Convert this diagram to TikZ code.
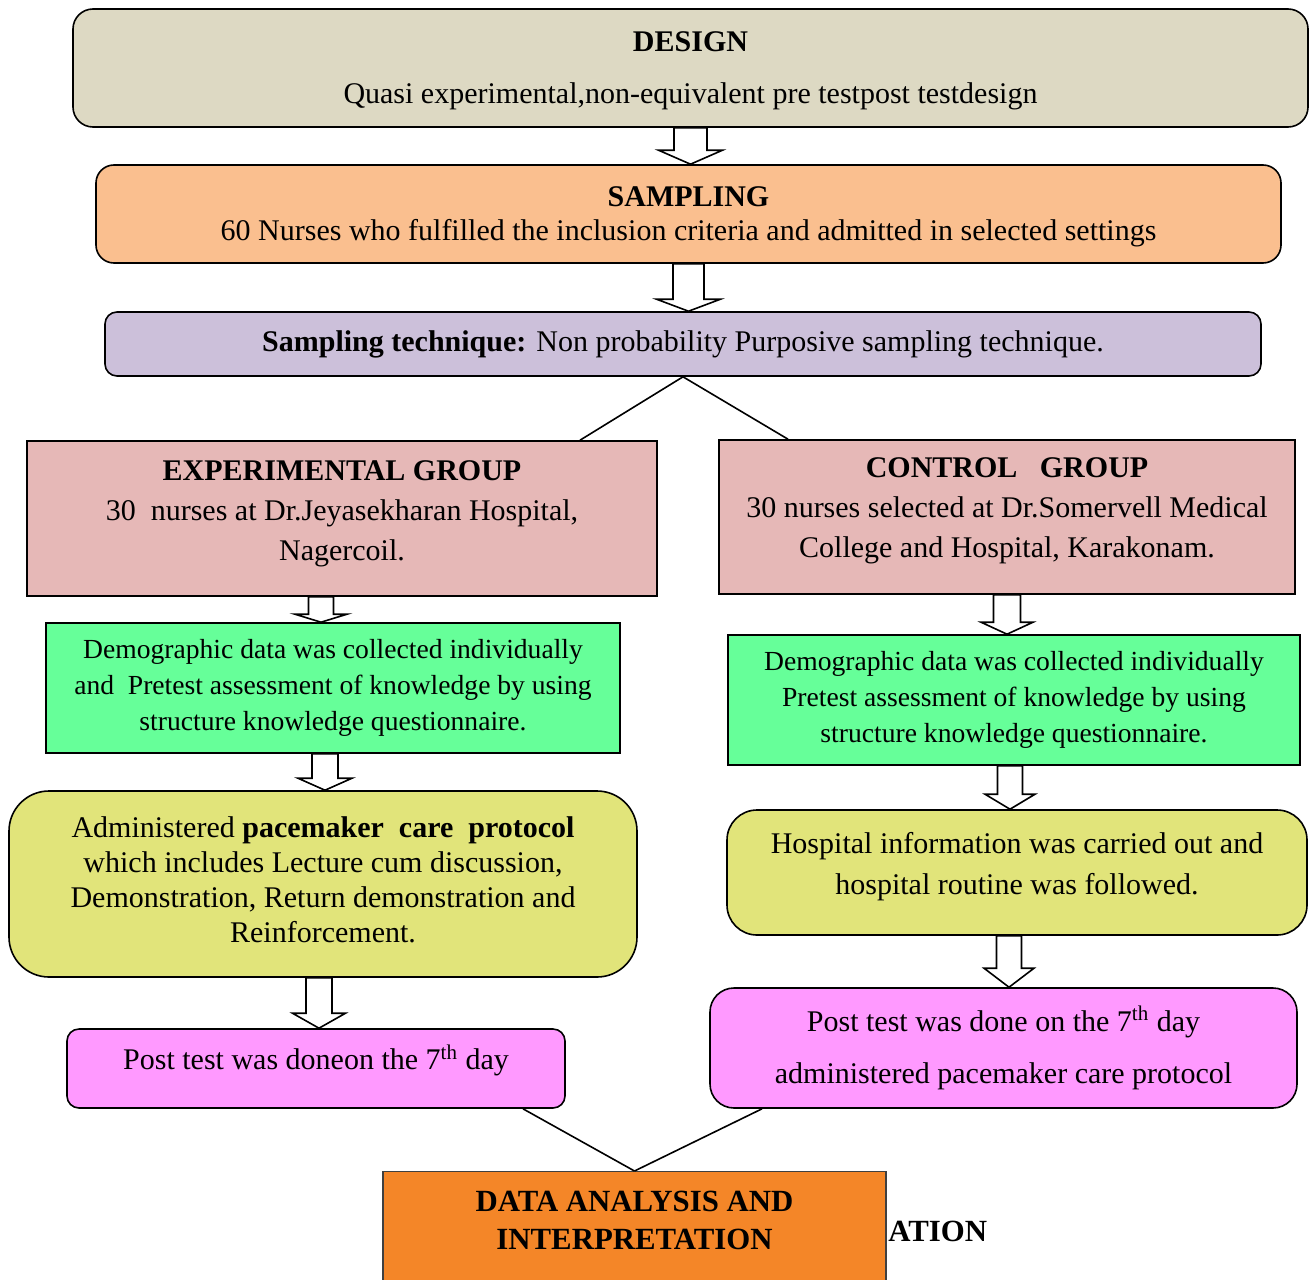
\documentclass[tikz,border=0pt]{standalone}
\usepackage{fontspec}
\setmainfont{Liberation Serif}
\usetikzlibrary{calc}
\definecolor{designcol}{RGB}{221,217,195}
\definecolor{samplecol}{RGB}{250,191,143}
\definecolor{techcol}{RGB}{204,192,218}
\definecolor{groupcol}{RGB}{230,184,183}
\definecolor{demogcol}{RGB}{102,255,153}
\definecolor{treatcol}{RGB}{225,228,122}
\definecolor{postcol}{RGB}{255,153,255}
\definecolor{resultcol}{RGB}{244,134,40}
\tikzset{
    box/.style={draw, line width=0.8pt, align=center, inner sep=0pt},
    hollow/.style={draw, line width=0.8pt, fill=white, line join=miter},
    link/.style={line width=0.8pt}
}
% vertical hollow block arrow: from, to, shaft half width, head half width, head length
\newcommand{\blockarrow}[5]{%
    \draw[hollow] let \p1=#1, \p2=#2 in
    (\x1-#3,\y1) -- (\x1+#3,\y1) -- (\x1+#3,\y2+#5) -- (\x1+#4,\y2+#5)
    -- (\x1,\y2) -- (\x1-#4,\y2+#5) -- (\x1-#3,\y2+#5) -- cycle;}
\begin{document}
\begin{tikzpicture}[x=0.5pt, y=-0.5pt]
    \path[use as bounding box] (0,0) rectangle (1310,1279);
    \clip (0,0) rectangle (1310,1279);
    \node[box, fill=designcol, rounded corners=10pt, minimum width=617.5pt, minimum height=59pt, text depth=0pt,
        font=\fontsize{15}{26}\selectfont] at (690.5,68) (design)
        {\textbf{DESIGN}\\Quasi experimental,non-equivalent pre testpost testdesign};
    \node[box, fill=samplecol, rounded corners=9pt, minimum width=592.5pt, minimum height=49pt, text depth=0pt,
        font=\fontsize{15}{17}\selectfont] at (688.5,214) (sampling)
        {\textbf{SAMPLING}\\60 Nurses who fulfilled the inclusion criteria and admitted in selected settings};
    \node[box, fill=techcol, rounded corners=6pt, minimum width=578pt, minimum height=32pt,
        font=\fontsize{15}{17}\selectfont] at (683,344) (technique)
        {\textbf{Sampling technique:} Non probability Purposive sampling technique.};
    \node[box, fill=groupcol, minimum width=315pt, minimum height=77.5pt, text depth=8.3pt,
        font=\fontsize{15}{20}\selectfont] at (342,518.5) (expgroup)
        {\textbf{EXPERIMENTAL GROUP}\\30~~nurses at Dr.Jeyasekharan Hospital,\\Nagercoil.};
    \node[box, fill=groupcol, minimum width=288pt, minimum height=77pt, text depth=9.3pt,
        font=\fontsize{15}{20}\selectfont] at (1007,517) (ctrlgroup)
        {\textbf{CONTROL~~~GROUP}\\30 nurses selected at Dr.Somervell Medical\\College and Hospital, Karakonam.};
    \node[box, fill=demogcol, minimum width=287pt, minimum height=65pt,
        font=\fontsize{13.8}{18}\selectfont] at (333,688) (expdemo)
        {Demographic data was collected individually\\and~~Pretest assessment of knowledge by using\\structure knowledge questionnaire.};
    \node[box, fill=demogcol, minimum width=286pt, minimum height=65pt,
        font=\fontsize{13.8}{18}\selectfont] at (1014,700) (ctrldemo)
        {Demographic data was collected individually\\Pretest assessment of knowledge by using\\structure knowledge questionnaire.};
    \node[box, fill=treatcol, rounded corners=20pt, minimum width=314pt, minimum height=93pt, text depth=4.7pt,
        font=\fontsize{15}{17.5}\selectfont] at (323,884) (exptreat)
        {Administered \textbf{pacemaker~~care~~protocol}\\which includes Lecture cum discussion,\\Demonstration, Return demonstration and\\Reinforcement.};
    \node[box, fill=treatcol, rounded corners=15pt, minimum width=290pt, minimum height=62.5pt, text depth=9.3pt,
        font=\fontsize{15}{20.5}\selectfont] at (1017,872.5) (ctrltreat)
        {Hospital information was carried out and\\hospital routine was followed.};
    \node[box, fill=postcol, rounded corners=6pt, minimum width=249pt, minimum height=39.5pt, text depth=11.3pt,
        font=\fontsize{15}{17}\selectfont] at (316,1068.5) (exppost)
        {Post test was doneon the 7\textsuperscript{th} day};
    \node[box, fill=postcol, rounded corners=12pt, minimum width=293.5pt, minimum height=60pt,
        font=\fontsize{15}{26}\selectfont] at (1003.5,1048) (ctrlpost)
        {Post test was done on the 7\textsuperscript{th} day\\administered pacemaker care protocol};
    \node[box, draw=black!75, line width=0.6pt, fill=resultcol, anchor=north, minimum width=251.5pt,
        inner ysep=9.5pt, text depth=50pt, font=\bfseries\fontsize{15.4}{19}\selectfont] at (634.5,1171) (analysis)
        {DATA ANALYSIS AND\\INTERPRETATION};
    \node[anchor=west, inner sep=0pt, font=\bfseries\fontsize{15.4}{17}\selectfont] at (888,1231) (ation) {ATION};

    \blockarrow{(design.south)}{(sampling.north)}{8.25pt}{16pt}{7pt}
    \blockarrow{(sampling.south)}{(technique.north)}{7.75pt}{16pt}{6pt}
    \blockarrow{([xshift=-10.5pt]expgroup.south)}{(expdemo.north)}{6.25pt}{13pt}{4pt}
    \blockarrow{([xshift=-4pt]expdemo.south)}{(exptreat.north)}{6.5pt}{13.5pt}{6pt}
    \blockarrow{([xshift=-2pt]exptreat.south)}{(exppost.north)}{6.5pt}{13.25pt}{7.5pt}
    \blockarrow{(ctrlgroup.south)}{(ctrldemo.north)}{6.75pt}{13pt}{6pt}
    \blockarrow{([xshift=-2pt]ctrldemo.south)}{(ctrltreat.north)}{6.25pt}{12.5pt}{7.5pt}
    \blockarrow{([xshift=-4pt]ctrltreat.south)}{(ctrlpost.north)}{6.25pt}{12.5pt}{9.5pt}

    \path[link]
    (technique.south) edge ([xshift=119pt]expgroup.north)
    (technique.south) edge ([xshift=-109.5pt]ctrlgroup.north)
    ([xshift=103.5pt]exppost.south) edge (analysis.north)
    ([xshift=-120.75pt]ctrlpost.south) edge (analysis.north)
    ;
\end{tikzpicture}
\end{document}
